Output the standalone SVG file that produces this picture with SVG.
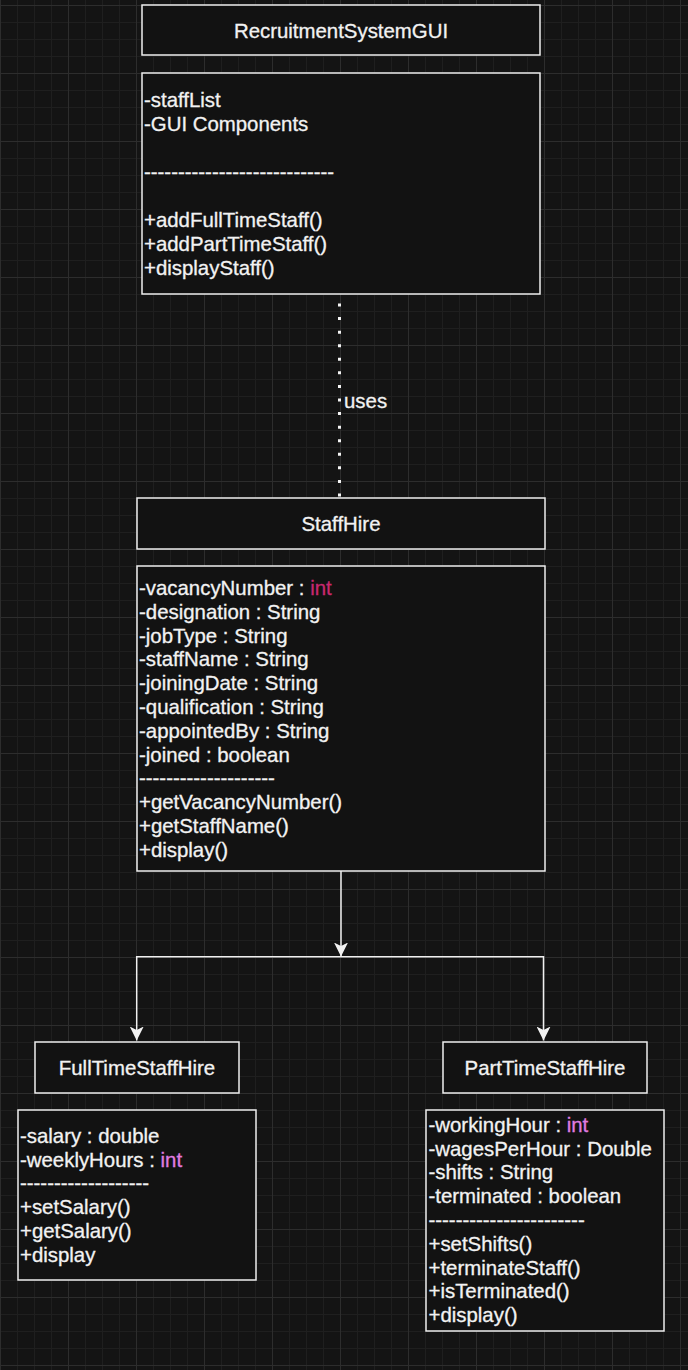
<svg xmlns="http://www.w3.org/2000/svg" width="688" height="1370" viewBox="0 0 688 1370">
<defs>
<pattern id="grid" patternUnits="userSpaceOnUse" x="0" y="5" width="68" height="68">
<rect x="0" y="0" width="68" height="68" fill="#141414"/>
<rect x="17" y="0" width="1" height="68" fill="#1f1f1f"/>
<rect x="34" y="0" width="1" height="68" fill="#1f1f1f"/>
<rect x="51" y="0" width="1" height="68" fill="#1f1f1f"/>
<rect x="0" y="17" width="68" height="1" fill="#1f1f1f"/>
<rect x="0" y="34" width="68" height="1" fill="#1f1f1f"/>
<rect x="0" y="51" width="68" height="1" fill="#1f1f1f"/>
<rect x="0" y="0" width="1" height="68" fill="#2d2d2d"/>
<rect x="0" y="0" width="68" height="1" fill="#2d2d2d"/>
</pattern>
<marker id="arrow" markerUnits="userSpaceOnUse" viewBox="0 -7 14 14" refX="14" refY="0" markerWidth="14" markerHeight="14" orient="auto">
<path d="M0,-7 L14,0 L0,7 L3.5,0 Z" fill="#f2f2f2"/>
</marker>
<style>
.box{fill:#121212;stroke:#eeeeee;stroke-width:1.5}
.t{font-family:"Liberation Sans",Arial,Helvetica,sans-serif;font-size:20.4px;fill:#f2f2f2;stroke:#f2f2f2;stroke-width:0.3}
.c{text-anchor:middle}
.i1{fill:#c8286f;stroke:#c8286f}
.i2{fill:#e07ce0;stroke:#e07ce0}
.ln{fill:none;stroke:#f0f0f0;stroke-width:1.5}
.dot{fill:none;stroke:#f4f4f4;stroke-width:3;stroke-dasharray:3 10.57}
</style>
</defs>
<rect x="0" y="0" width="688" height="1370" fill="url(#grid)"/>

<g id="connectors">
<line class="dot" x1="339.5" y1="303.5" x2="339.5" y2="497"/>
<text class="t" x="344" y="408">uses</text>
<line class="ln" x1="341" y1="871" x2="341" y2="956.5" marker-end="url(#arrow)"/>
<line class="ln" x1="136.7" y1="956.7" x2="543.5" y2="956.7"/>
<line class="ln" x1="136.7" y1="956" x2="136.7" y2="1040.5" marker-end="url(#arrow)"/>
<line class="ln" x1="543.5" y1="956" x2="543.5" y2="1040.5" marker-end="url(#arrow)"/>
</g>

<g id="RecruitmentSystemGUI">
<rect class="box" x="142" y="5" width="398" height="50"/>
<text class="t c" x="341" y="38">RecruitmentSystemGUI</text>
<rect class="box" x="142" y="73" width="398" height="221"/>
<text class="t" x="144" y="107">-staffList</text>
<text class="t" x="144" y="131">-GUI Components</text>
<text class="t" x="144" y="179">----------------------------</text>
<text class="t" x="144" y="227">+addFullTimeStaff()</text>
<text class="t" x="144" y="251">+addPartTimeStaff()</text>
<text class="t" x="144" y="275">+displayStaff()</text>
</g>

<g id="StaffHire">
<rect class="box" x="137" y="498" width="408" height="51"/>
<text class="t c" x="341" y="531">StaffHire</text>
<rect class="box" x="137" y="566" width="408" height="305"/>
<text class="t" x="139" y="595">-vacancyNumber : <tspan class="i1">int</tspan></text>
<text class="t" x="139" y="618.8">-designation : String</text>
<text class="t" x="139" y="642.6">-jobType : String</text>
<text class="t" x="139" y="666.4">-staffName : String</text>
<text class="t" x="139" y="690.2">-joiningDate : String</text>
<text class="t" x="139" y="714">-qualification : String</text>
<text class="t" x="139" y="737.8">-appointedBy : String</text>
<text class="t" x="139" y="761.6">-joined : boolean</text>
<text class="t" x="139" y="785.4">--------------------</text>
<text class="t" x="139" y="809.2">+getVacancyNumber()</text>
<text class="t" x="139" y="833">+getStaffName()</text>
<text class="t" x="139" y="856.8">+display()</text>
</g>

<g id="FullTimeStaffHire">
<rect class="box" x="35" y="1042" width="204" height="51"/>
<text class="t c" x="137" y="1075">FullTimeStaffHire</text>
<rect class="box" x="18" y="1110" width="238" height="170"/>
<text class="t" x="20" y="1142.7">-salary : double</text>
<text class="t" x="20" y="1166.5">-weeklyHours : <tspan class="i2">int</tspan></text>
<text class="t" x="20" y="1190.3">-------------------</text>
<text class="t" x="20" y="1214.1">+setSalary()</text>
<text class="t" x="20" y="1237.9">+getSalary()</text>
<text class="t" x="20" y="1261.7">+display</text>
</g>

<g id="PartTimeStaffHire">
<rect class="box" x="443" y="1042" width="204" height="51"/>
<text class="t c" x="545" y="1075">PartTimeStaffHire</text>
<rect class="box" x="426" y="1110" width="238" height="221"/>
<text class="t" x="428.5" y="1131.7">-workingHour : <tspan class="i2">int</tspan></text>
<text class="t" x="428.5" y="1155.5">-wagesPerHour : Double</text>
<text class="t" x="428.5" y="1179.3">-shifts : String</text>
<text class="t" x="428.5" y="1203.1">-terminated : boolean</text>
<text class="t" x="428.5" y="1226.9">-----------------------</text>
<text class="t" x="428.5" y="1250.7">+setShifts()</text>
<text class="t" x="428.5" y="1274.5">+terminateStaff()</text>
<text class="t" x="428.5" y="1298.3">+isTerminated()</text>
<text class="t" x="428.5" y="1322.1">+display()</text>
</g>
</svg>
